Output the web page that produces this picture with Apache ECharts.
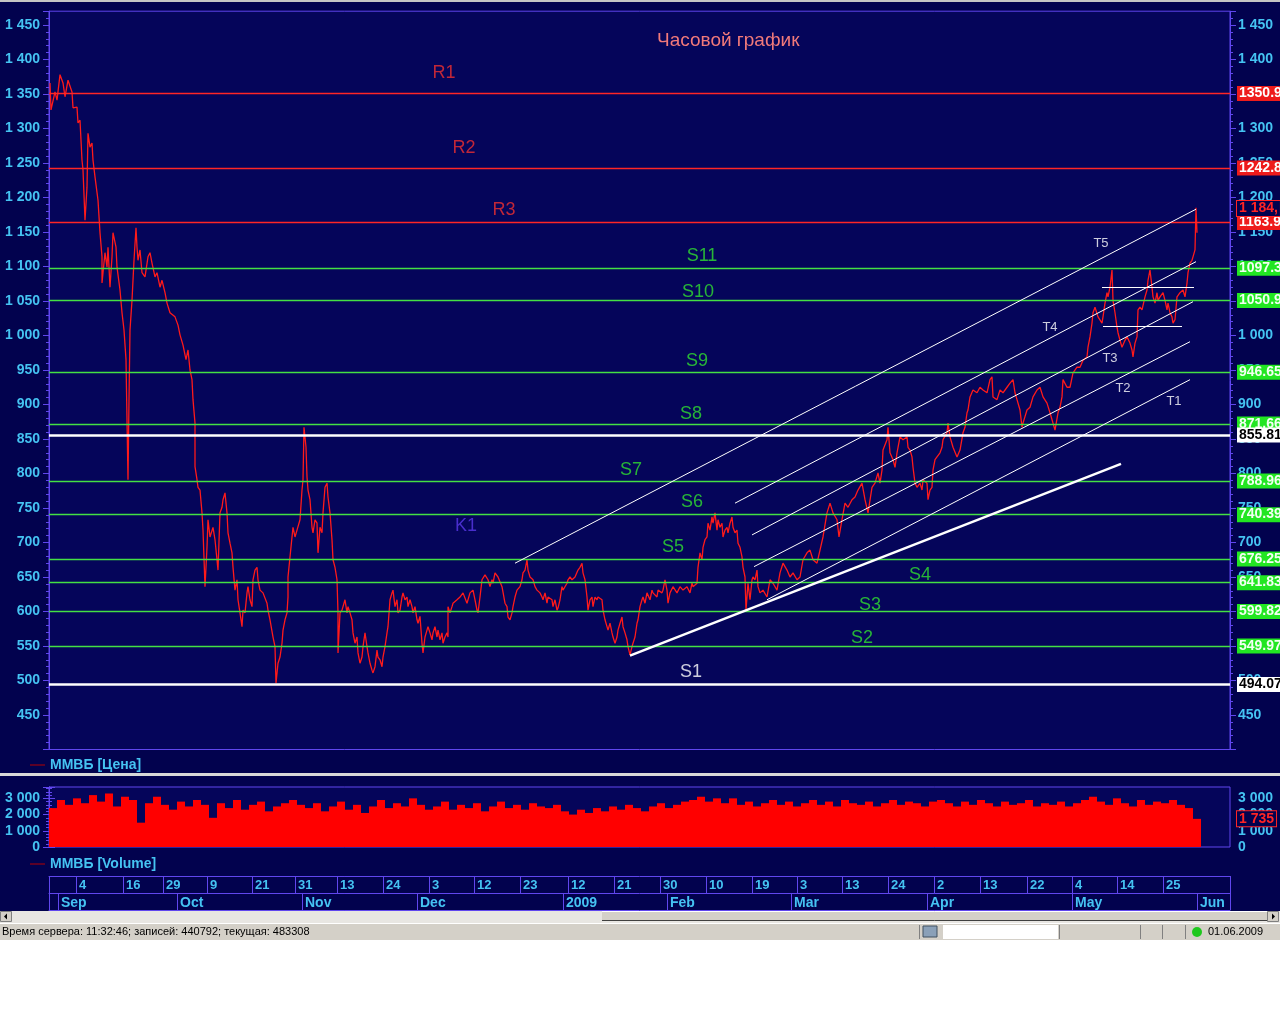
<!DOCTYPE html>
<html><head><meta charset="utf-8">
<script src="https://cdn.jsdelivr.net/npm/echarts@6/dist/echarts.min.js"></script>
<style>html,body{margin:0;padding:0;background:#fff;}#c{width:1280px;height:1024px;}</style>
</head><body><div id="c"></div>
<script>
// ---------- DATA ----------
const chartTitle = 'Часовой график';
const priceName = 'ММВБ [Цена]';
const volumeName = 'ММВБ [Volume]';
// hourly bar index, price
const pricePoints = [
[1,1366],[2,1327],[6,1353],[8,1341],[11,1378],[14,1366],[16,1346],[19,1370],[23,1353],[24,1330],[28,1331],[29,1308],[31,1312],[33,1254],[34,1240],[36,1167],[38,1215],[39,1293],[41,1273],[43,1279],[44,1254],[46,1230],[49,1196],[51,1149],[53,1114],[53,1076],[56,1120],[58,1099],[59,1128],[61,1070],[63,1114],[64,1149],[67,1128],[68,1099],[71,1066],[73,1033],
[75,1008],[77,965],[78,878],[79,791],[80,907],[81,1008],[83,1051],[85,1109],[87,1156],[88,1128],[89,1109],[91,1124],[93,1091],[96,1085],[99,1114],[101,1120],[103,1105],[106,1085],[108,1091],[111,1070],[113,1080],[116,1062],[118,1047],[121,1033],[126,1027],[129,1015],[131,1001],[134,986],[137,965],[139,979],[141,950],[143,936],
[144,907],[146,873],[146,810],[148,791],[149,780],[151,776],[153,743],[154,718],[156,636],[158,693],[159,733],[161,708],[164,722],[166,704],[168,675],[169,660],[171,743],[173,751],[174,762],[176,772],[178,743],[179,714],[181,699],[183,685],[184,664],[186,631],[188,646],[189,617],[191,598],[193,578],[194,602],[196,598],[198,627],[199,636],[201,617],[203,607],[204,646],[206,660],[208,664],[209,646],[211,631],[214,627],[218,612],[219,602],[221,588],[224,563],[226,549],[227,496],[229,525],[231,534],[233,554],[234,573],[236,588],[238,598],[239,621],[239,650],[241,679],[243,708],[244,722],[246,708],[248,718],[251,733],
[253,776],[254,791],[255,867],[257,838],[258,795],[259,776],[261,762],[263,722],[264,714],[266,733],[268,728],[269,685],[271,722],[273,714],[274,743],[276,780],[278,786],[279,766],[281,743],[283,704],[284,675],[286,664],[288,646],[289,598],[289,540],[291,598],[293,602],[296,617],[298,598],[299,607],[301,598],[303,588],[304,569],[306,554],[308,563],[309,540],[311,525],[313,534],[314,549],[316,569],[318,549],[319,540],[321,525],[323,515],[324,511],[326,520],[328,544],[329,534],[331,530],[333,520],[334,534],[336,549],[338,569],[339,578],[341,617],[343,627],[344,631],[346,607],[348,617],[349,598],[351,602],[353,621],[354,627],[356,617],[358,621],[359,607],[361,617],[363,607],[364,598],[366,607],[368,588],[369,583],[371,593],[373,554],[374,540],[376,563],[378,573],[379,578],[381,569],[383,559],[384,569],[386,578],[388,563],[389,573],[391,559],[393,569],[394,554],[396,563],[398,569],[399,563],
[399,607],[401,598],[403,607],[404,612],[408,617],[411,621],[414,627],[418,612],[421,627],[424,631],[426,617],[428,602],[429,598],[431,621],[433,646],[436,653],[439,646],[441,636],[443,646],[444,641],[446,656],[449,650],[453,636],[456,612],[458,607],[459,592],[461,588],[463,598],[464,607],[466,621],[468,631],[471,636],[473,646],[474,656],[476,660],[478,675],[479,660],[481,650],[484,646],[486,636],[488,631],[491,627],[493,621],[494,617],[496,627],[498,612],[499,621],[503,617],[504,607],[506,617],[508,602],[509,605],[511,617],[513,636],[514,631],[518,641],[519,646],[521,650],[523,646],[526,650],[529,660],[531,664],[533,670],[534,656],[536,646],[538,621],[539,602],[541,617],[543,621],[544,607],[546,621],[548,617],[549,621],[553,617],[554,602],[556,588],[558,578],[559,573],[561,583],[563,569],[564,563],[566,554],[568,563],[569,573],[571,583],[573,592],[574,578],[576,569],[578,559],[579,549],[581,537],[583,549],[584,554],[586,563],[588,583],[589,588],[591,607],[593,617],[594,621],[596,612],[598,627],[601,617],[603,631],[604,627],[608,621],[609,631],[613,627],[614,631],[616,646],[618,631],[619,612],[621,627],[624,636],[628,627],[631,636],[634,631],[638,636],[641,627],[643,641],[644,636],[648,641],[649,664],[651,685],[653,675],[654,693],[656,704],[658,708],[659,728],[661,718],[663,737],[664,728],[666,743],[668,718],[669,733],[671,722],[673,728],[674,708],[676,718],[678,722],[679,714],[681,728],[683,737],[684,722],[686,714],[688,718],[689,699],[691,693],[693,679],[694,664],[696,650],[697,602],[699,641],[701,617],[703,646],[704,650],[706,646],[708,660],[709,636],[711,627],[714,631],[718,621],[721,646],[724,641],[728,631],
[731,656],[734,670],[738,660],[741,650],[744,656],[748,646],[751,650],[754,675],[758,685],[761,689],[764,675],[768,670],[771,689],[774,708],[778,743],[781,757],[784,743],[788,733],[790,708],[793,733],[796,757],[799,751],[803,762],[806,766],[809,776],[813,786],[816,762],[819,743],[823,780],[826,786],[829,801],[831,786],[833,805],[834,834],[838,849],[839,867],[841,830],[844,820],[846,809],[848,830],[851,853],[854,849],[858,853],[859,838],[861,834],[863,824],[864,809],[866,786],[868,780],[871,786],[873,776],[874,791],[878,786],[879,762],[881,776],[883,780],[884,805],[886,820],[888,824],[891,830],[893,838],[894,849],[898,859],[899,873],[901,853],[904,838],[908,824],[911,834],[914,859],[916,867],[918,888],[919,892],[921,911],[924,921],[928,917],[931,925],[934,921],[938,917],[941,936],[943,940],[944,911],[948,907],[951,921],[954,917],[958,925],[961,931],[964,936],[966,917],[968,907],[971,892],[973,867],[974,873],[978,892],[981,896],[984,911],[988,921],[991,925],[994,911],[998,902],[1001,888],[1004,873],[1006,863],[1009,888],
[1011,896],[1013,911],[1014,936],[1018,925],[1021,925],[1024,946],[1028,954],[1031,954],[1034,964],[1038,969],[1039,983],[1041,998],[1043,1018],[1044,1033],[1046,1041],[1049,1027],[1051,1027],[1053,1018],[1054,1027],[1056,1047],[1058,1062],[1059,1056],[1061,1070],[1063,1095],[1064,1051],[1066,1033],[1068,1012],[1069,1004],[1071,993],[1073,983],[1076,993],[1078,998],[1081,989],[1083,979],[1084,969],[1086,989],[1088,998],[1089,1037],[1091,1041],[1093,1037],[1096,1056],[1098,1066],[1099,1080],[1101,1095],[1103,1070],[1104,1056],[1106,1047],[1108,1062],[1109,1051],[1111,1056],[1114,1062],[1116,1051],[1118,1037],[1119,1047],[1121,1033],[1123,1027],[1124,1018],[1126,1023],[1128,1056],[1131,1062],[1134,1066],[1136,1056],[1138,1076],[1139,1091],[1141,1105],[1143,1109],[1144,1114],[1146,1124],[1147,1185],[1148,1149]
];
// volume, one value per 8 hourly bars
const VOL_STEP = 8;
const volumes = [
2400,2900,2600,3000,2700,3200,2800,3300,2500,3100,2900,1500,2700,3100,2600,2300,
2800,2500,2900,2600,1800,2700,2400,2900,2300,2600,2800,2200,2500,2700,2900,2600,
2400,2700,2200,2500,2800,2300,2600,2100,2500,2900,2400,2700,2500,3000,2600,2300,
2500,2800,2300,2600,2400,2700,2200,2500,2800,2400,2600,2300,2700,2500,2400,2600,
2200,2000,2300,2100,2400,2200,2500,2300,2600,2400,2200,2500,2700,2400,2600,2800,
2900,3100,2800,3000,2700,3000,2600,2800,2500,2700,2900,2600,2800,2500,2700,2900,
2600,2800,2500,2900,2700,2600,2800,2500,2700,2900,2600,2800,2700,2500,2800,2900,
2700,2500,2800,2600,2900,2700,2500,2800,2600,2700,2900,2500,2700,2600,2800,2500,
2700,2900,3100,2800,2600,3000,2700,2500,2900,2600,2800,2700,2900,2600,2400,1735
];
const BAR_COUNT = 1181;
const dayTicks  = [27,74,114,158,203,246,288,334,380,425,471,519,565,611,657,703,748,793,839,885,931,978,1023,1068,1114];
const dayLabels = ['4','16','29','9','21','31','13','24','3','12','23','12','21','30','10','19','3','13','24','2','13','22','4','14','25'];
const monthTicks  = [9,128,253,368,514,618,742,878,1023,1148];
const monthLabels = ['Sep','Oct','Nov','Dec','2009','Feb','Mar','Apr','May','Jun'];
const levelValues = [1350.9,1242.8,1163.9,1097.3,1050.9,946.65,871.66,855.81,788.96,740.39,676.25,641.83,599.82,549.97,494.07];
const levelKinds  = ['r','r','r','g','g','g','g','w','g','g','g','g','g','g','w'];
const lastPrice = 1184;
const lastPriceText = '1 184,';
const lastVolume = 1735;
const lastVolumeText = '1 735';
const channelLines = [
  [[466,670],[1147,1183]],
  [[686,757],[1147,1107]],
  [[703,711],[1144,1049]],
  [[705,665],[1141,991]],
  [[718,617],[1141,936]],
  [[1053,1070],[1145,1070]],
  [[1054,1014],[1133,1014]]
];
const supportLine = [[581,536],[1072,814]];
const annoText = ['R1','R2','R3','S11','S10','S9','S8','S7','S6','S5','S4','S3','S2','S1','K1','T5','T4','T3','T2','T1'];
const annoBar  = [395,415,455,653,649,648,642,582,643,624,871,821,813,642,417,1052,1001,1061,1074,1125];
const annoPrice= [1380,1272,1182,1115,1063,963,886,805,759,694,653,609,562,512,724,1133,1011,967,924,905];
const statusText = 'Время сервера: 11:32:46; записей: 440792; текущая: 483308';
const statusDate = '01.06.2009';

// ---------- STYLE ----------
const NAVY = '#02024e', GRID_BG = '#05055a', AXIS = '#6046ee', CYAN = '#45c3f2';
const FONT = 'Liberation Sans';
const fmt = v => { const s = String(Math.round(v)); return s.length > 3 ? s.slice(0, -3) + ' ' + s.slice(-3) : s; };
const kindStyle = {
  r: {line:'#ff2626', width:1.3, bg:'#ee1b1b', fg:'#ffffff'},
  g: {line:'#44e044', width:1.3, bg:'#22e622', fg:'#f2fff2'},
  w: {line:'#ffffff', width:2.5, bg:'#ffffff', fg:'#000000'}
};
const annoColor = t => t === 'S1' ? '#ffffff' : t[0] === 'R' ? '#f03030' : t[0] === 'S' ? '#30e030' : t[0] === 'K' ? '#5a38e8' : '#ffffff';
const tagLabel = (text, bg, fg, border) => ({
  show: true, position: 'end', distance: 7, formatter: text,
  backgroundColor: bg, color: fg, borderColor: border || 'transparent', borderWidth: border ? 1 : 0,
  fontWeight: 'bold', fontSize: 14, fontFamily: FONT, padding: [1, 2, 0, 2], lineHeight: 14, opacity: 1
});
const HIDDEN = {color: 'rgba(0,0,0,0)', width: 0, type: 'solid'};

const levelMarks = levelValues.map((v, i) => {
  const s = kindStyle[levelKinds[i]];
  return {yAxis: v, lineStyle: {color: s.line, width: s.width, type: 'solid'}, label: tagLabel(String(v), s.bg, s.fg)};
});
const channelMarks = channelLines.map(l => [
  {coord: l[0], lineStyle: {color: '#ffffff', width: 1, type: 'solid'}, label: {show: false}},
  {coord: l[1]}
]);
const supportMark = [
  {coord: supportLine[0], lineStyle: {color: '#ffffff', width: 2.5, type: 'solid'}, label: {show: false}},
  {coord: supportLine[1]}
];
const lastPriceMark = {yAxis: lastPrice, lineStyle: HIDDEN, label: tagLabel(lastPriceText, NAVY, '#ff2424', '#ff2424')};
const lastVolumeMark = {yAxis: lastVolume, lineStyle: HIDDEN, label: tagLabel(lastVolumeText, NAVY, '#ff2424', '#ff2424')};

const axisLabelBase = {color: CYAN, fontWeight: 'bold', fontSize: 14, fontFamily: FONT};
function priceY(pos) {
  return {
    type: 'value', gridIndex: 0, position: pos, min: 400, max: 1470, interval: 50,
    axisLine: {show: true, lineStyle: {color: AXIS}},
    axisTick: {show: true, length: 6, lineStyle: {color: AXIS}},
    minorTick: {show: true, splitNumber: 5, length: 3, lineStyle: {color: AXIS}},
    splitLine: {show: false},
    axisLabel: Object.assign({}, axisLabelBase, {margin: pos === 'left' ? 9 : 8, formatter: fmt, showMinLabel: false, showMaxLabel: false})
  };
}
function volY(pos) {
  return {
    type: 'value', gridIndex: 1, position: pos, min: 0, max: 3700, interval: 1000,
    axisLine: {show: true, lineStyle: {color: AXIS}},
    axisTick: {show: true, length: 6, lineStyle: {color: AXIS}},
    minorTick: {show: true, splitNumber: 5, length: 3, lineStyle: {color: AXIS}},
    splitLine: {show: false},
    axisLabel: Object.assign({}, axisLabelBase, {margin: pos === 'left' ? 9 : 8, formatter: fmt, showMaxLabel: false, lineHeight: 14})
  };
}
function dateAxis(offset, ticks, labels, size) {
  return {
    type: 'value', gridIndex: 1, position: 'bottom', offset: offset, min: 0, max: BAR_COUNT,
    axisLine: {show: true, onZero: false, lineStyle: {color: AXIS}},
    axisTick: {show: true, length: 17, customValues: [0].concat(ticks, [BAR_COUNT]), lineStyle: {color: AXIS}},
    splitLine: {show: false},
    axisLabel: Object.assign({}, axisLabelBase, {fontSize: size, customValues: ticks, align: 'left', margin: 3, padding: [0, 0, 0, 3],
      formatter: v => labels[ticks.indexOf(v)]})
  };
}

const option = {
  animation: false,
  backgroundColor: NAVY,
  textStyle: {fontFamily: FONT},
  title: {text: chartTitle, left: 652, top: 26, textStyle: {color: '#f27a7a', fontSize: 19, fontWeight: 'normal', fontFamily: FONT}},
  legend: [
    {data: [priceName], left: 25, top: 753, icon: 'rect', itemWidth: 15, itemHeight: 1, itemStyle: {color: '#b40000', borderWidth: 0},
     textStyle: {color: CYAN, fontWeight: 'bold', fontSize: 14, fontFamily: FONT}, selectedMode: false},
    {data: [volumeName], left: 25, top: 852, icon: 'rect', itemWidth: 15, itemHeight: 1, itemStyle: {color: '#b40000', borderWidth: 0},
     textStyle: {color: CYAN, fontWeight: 'bold', fontSize: 14, fontFamily: FONT}, selectedMode: false}
  ],
  grid: [
    {left: 49, top: 11.2, width: 1181, height: 738.3, show: true, backgroundColor: GRID_BG, borderColor: AXIS, borderWidth: 1},
    {left: 49, top: 787, width: 1181, height: 60, show: true, backgroundColor: GRID_BG, borderColor: AXIS, borderWidth: 1}
  ],
  xAxis: [
    {type: 'value', gridIndex: 0, min: 0, max: BAR_COUNT, show: false},
    dateAxis(29, dayTicks, dayLabels, 13),
    dateAxis(46, monthTicks, monthLabels, 14),
    {type: 'value', gridIndex: 1, position: 'bottom', offset: 63, min: 0, max: BAR_COUNT,
     axisLine: {show: true, onZero: false, lineStyle: {color: AXIS}}, axisTick: {show: false}, axisLabel: {show: false}, splitLine: {show: false}}
  ],
  yAxis: [priceY('left'), priceY('right'), volY('left'), volY('right')],
  series: [
    {
      name: priceName, type: 'line', xAxisIndex: 0, yAxisIndex: 0, data: pricePoints,
      showSymbol: false, symbol: 'none', lineStyle: {color: '#ff1a1a', width: 1.3}, itemStyle: {color: '#b40000'},
      z: 3,
      markLine: {
        silent: true, symbol: ['none', 'none'], animation: false,
        lineStyle: {type: 'solid'}, label: {show: false},
        data: levelMarks.concat(channelMarks, [supportMark], [lastPriceMark])
      }
    },
    {
      name: 'annotations', type: 'scatter', xAxisIndex: 0, yAxisIndex: 0, symbolSize: 1, silent: true,
      itemStyle: {color: 'rgba(0,0,0,0)'}, z: 4,
      data: annoText.map((t, i) => ({
        name: t, value: [annoBar[i], annoPrice[i]],
        label: {show: true, position: 'inside', formatter: t, color: annoColor(t),
                fontSize: t[0] === 'T' ? 13 : 18, fontFamily: FONT}
      }))
    },
    {
      name: volumeName, type: 'bar', xAxisIndex: 1, yAxisIndex: 2,
      data: volumes.map((v, i) => [i * VOL_STEP + VOL_STEP / 2, v]),
      barWidth: 8, itemStyle: {color: '#ff0000'},
      markLine: {silent: true, symbol: ['none', 'none'], animation: false, data: [lastVolumeMark]}
    }
  ],
  graphic: [
    {type: 'rect', shape: {x: 0, y: 0, width: 1280, height: 2}, style: {fill: '#c4c4c4'}},
    {type: 'rect', shape: {x: 0, y: 773, width: 1280, height: 3}, style: {fill: '#d8d8d8'}},
    {type: 'rect', shape: {x: 0, y: 911, width: 1280, height: 12}, style: {fill: '#e8e6e2'}},
    {type: 'rect', shape: {x: 602, y: 911, width: 665, height: 10}, style: {fill: '#d4d0c8'}},
    {type: 'line', shape: {x1: 602, y1: 911.5, x2: 1267, y2: 911.5}, style: {stroke: '#ffffff'}},
    {type: 'line', shape: {x1: 602, y1: 920.5, x2: 1267, y2: 920.5}, style: {stroke: '#404040'}},
    {type: 'rect', shape: {x: 0.5, y: 911.5, width: 11, height: 10}, style: {fill: '#d4d0c8', stroke: '#808080'}},
    {type: 'polygon', shape: {points: [[4, 916.5], [7, 913.5], [7, 919.5]]}, style: {fill: '#000000'}},
    {type: 'rect', shape: {x: 1267.5, y: 911.5, width: 11, height: 10}, style: {fill: '#d4d0c8', stroke: '#808080'}},
    {type: 'polygon', shape: {points: [[1275, 916.5], [1272, 913.5], [1272, 919.5]]}, style: {fill: '#000000'}},
    {type: 'rect', shape: {x: 0, y: 923, width: 1280, height: 17}, style: {fill: '#d4d0c8'}},
    {type: 'line', shape: {x1: 0, y1: 923.5, x2: 1280, y2: 923.5}, style: {stroke: '#ffffff'}},
    {type: 'text', x: 2, y: 932, style: {text: statusText, fill: '#000000', font: '11px "Liberation Sans"', verticalAlign: 'middle'}},
    {type: 'line', shape: {x1: 919.5, y1: 925, x2: 919.5, y2: 939}, style: {stroke: '#808080'}},
    {type: 'rect', shape: {x: 923, y: 926, width: 14, height: 11}, style: {fill: '#8aa0b8', stroke: '#405060'}},
    {type: 'rect', shape: {x: 943, y: 925, width: 115, height: 14}, style: {fill: '#ffffff'}},
    {type: 'line', shape: {x1: 1059.5, y1: 925, x2: 1059.5, y2: 939}, style: {stroke: '#808080'}},
    {type: 'line', shape: {x1: 1140.5, y1: 925, x2: 1140.5, y2: 939}, style: {stroke: '#808080'}},
    {type: 'line', shape: {x1: 1162.5, y1: 925, x2: 1162.5, y2: 939}, style: {stroke: '#808080'}},
    {type: 'line', shape: {x1: 1185.5, y1: 925, x2: 1185.5, y2: 939}, style: {stroke: '#808080'}},
    {type: 'circle', shape: {cx: 1197, cy: 932, r: 5}, style: {fill: '#1ec81e'}},
    {type: 'text', x: 1208, y: 932, style: {text: statusDate, fill: '#000000', font: '11px "Liberation Sans"', verticalAlign: 'middle'}},
    {type: 'rect', shape: {x: 0, y: 940, width: 1280, height: 84}, style: {fill: '#ffffff'}}
  ]
};
const chart = echarts.init(document.getElementById('c'), null, {renderer: 'canvas'});
chart.setOption(option);
</script>
</body></html>
